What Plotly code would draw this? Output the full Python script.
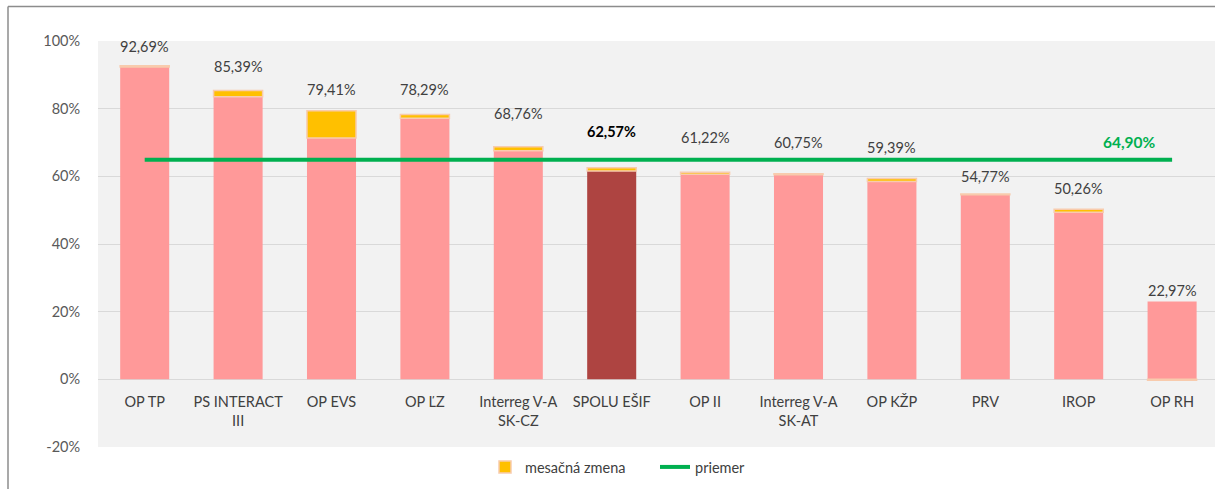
import plotly.graph_objects as go

categories = ["OP TP", "PS INTERACT<br>III", "OP EVS", "OP ĽZ", "Interreg V-A<br>SK-CZ",
              "SPOLU EŠIF", "OP II", "Interreg V-A<br>SK-AT", "OP KŽP", "PRV", "IROP", "OP RH"]
totals = [92.69, 85.39, 79.41, 78.29, 68.76, 62.57, 61.22, 60.75, 59.39, 54.77, 50.26, 22.97]
monthly_change = [0.4, 1.9, 8.1, 1.1, 1.2, 1.0, 0.6, 0.3, 0.9, 0.2, 0.9, -0.3]
average = 64.90
label_texts = ["92,69%", "85,39%", "79,41%", "78,29%", "68,76%", "62,57%",
               "61,22%", "60,75%", "59,39%", "54,77%", "50,26%", "22,97%"]
average_text = "64,90%"
y_ticks = [-20, 0, 20, 40, 60, 80, 100]
y_tick_text = ["-20%", "0%", "20%", "40%", "60%", "80%", "100%"]

# styling: vertical pixel offsets of the data labels above the bar tops
label_offsets = [19, 24, 21, 25, 33, 36, 35, 31, 31, 18, 21, 11]

base = [t - c if c > 0 else t for t, c in zip(totals, monthly_change)]
colors = ["#ae4441" if "SPOLU" in c else "#ff9999" for c in categories]

FONT = "Lato, 'Open Sans', sans-serif"
TXT = "#404040"

fig = go.Figure()
fig.add_trace(go.Bar(x=categories, y=base, marker=dict(color=colors, line=dict(width=0)),
                     showlegend=False, hoverinfo="skip"))
fig.add_trace(go.Bar(x=categories, y=monthly_change, name="mesačná zmena",
                     marker=dict(color="#ffc000", line=dict(color="#f8cbad", width=1.5))))
fig.add_trace(go.Scatter(x=categories, y=[average] * len(categories), name="priemer",
                         mode="lines", line=dict(color="#00b050", width=4)))

for cat, y, txt, off in zip(categories, totals, label_texts, label_offsets):
    bold = "SPOLU" in cat
    fig.add_annotation(x=cat, y=y, text=f"<b>{txt}</b>" if bold else txt, showarrow=False,
                       yanchor="middle", yshift=off,
                       font=dict(family=FONT, size=14.5, color="#000000" if bold else TXT))

fig.add_annotation(x=categories[-1], y=average, text=f"<b>{average_text}</b>", showarrow=False,
                   yanchor="middle", yshift=18, xshift=-43,
                   font=dict(family=FONT, size=15.5, color="#00b050"))

# outer chart frame
L, T, PW, PH, B = 98, 41, 1117, 406, 447
fig.add_shape(type="line", xref="paper", yref="paper",
              x0=(8 - L) / PW, x1=1.01, y0=(B - 6.5) / PH, y1=(B - 6.5) / PH,
              line=dict(color="#8c8c8c", width=1.5))
fig.add_shape(type="line", xref="paper", yref="paper",
              x0=(8 - L) / PW, x1=(8 - L) / PW, y0=(B - 6.5) / PH, y1=-0.2,
              line=dict(color="#8c8c8c", width=1.5))

fig.update_layout(
    width=1215, height=489,
    margin=dict(l=L, r=0, t=T, b=489 - B, autoexpand=False),
    paper_bgcolor="white", plot_bgcolor="#f2f2f2",
    barmode="relative", bargap=0.475,
    font=dict(family=FONT, size=14.5, color=TXT),
    legend=dict(orientation="h", x=(485 - L) / PW, xanchor="left", y=(B - 467) / PH,
                yanchor="middle", font=dict(family=FONT, size=14.5, color=TXT),
                bgcolor="rgba(0,0,0,0)", itemwidth=30, entrywidth=125),
    xaxis=dict(range=[-0.5, -0.5 + PW / 93.4], showgrid=False, anchor="free",
               position=(B - 379) / PH, showline=False, tickfont=dict(size=14.5, color=TXT),
               ticks="outside", ticklen=10, tickcolor="rgba(0,0,0,0)", fixedrange=True,
               automargin=False),
    yaxis=dict(range=[-20, 100], tickvals=y_ticks, ticktext=y_tick_text,
               gridcolor="#d9d9d9", gridwidth=1, zeroline=False, showline=False,
               ticks="outside", ticklen=14, tickcolor="rgba(0,0,0,0)", automargin=False,
               tickfont=dict(size=14.5, color="#595959")),
)

fig.write_html("out.html", config={"displayModeBar": False},
               post_script="document.body.style.margin='0px';")
